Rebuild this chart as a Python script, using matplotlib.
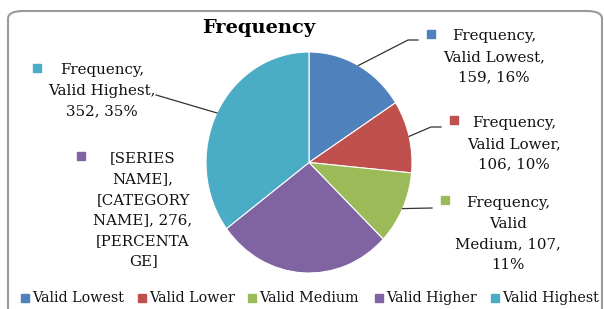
import numpy as np
import matplotlib
matplotlib.use("Agg")
import matplotlib.pyplot as plt
from matplotlib.patches import FancyBboxPatch
from matplotlib.lines import Line2D

categories = ["Valid Lowest", "Valid Lower", "Valid Medium", "Valid Higher", "Valid Highest"]
values = [159, 106, 107, 276, 352]
percents = ["16%", "10%", "11%", "28%", "35%"]
series_name = "Frequency"
colors = ["#4F81BD", "#C0504D", "#9BBB59", "#8064A2", "#4BACC6"]

label_texts = [
    "Frequency,\nValid Lowest,\n159, 16%",
    "Frequency,\nValid Lower,\n106, 10%",
    "Frequency,\nValid\nMedium, 107,\n11%",
    "[SERIES\nNAME],\n[CATEGORY\nNAME], 276,\n[PERCENTA\nGE]",
    "Frequency,\nValid Highest,\n352, 35%",
]

W, H = 604, 309
fig = plt.figure(figsize=(W / 100, H / 100), dpi=100)
FONT = "DejaVu Serif"
FS = 10.8

def fx(x):
    return x / W

def fy(y):
    return 1 - y / H

# border
border = FancyBboxPatch((fx(8), fy(318)), fx(594), 307 / H,
                        boxstyle="round,pad=0,rounding_size=0.025",
                        transform=fig.transFigure, facecolor="none",
                        edgecolor="#9a9a9a", linewidth=1.5, zorder=0)
fig.patches.append(border)

# pie axes (elliptical pie)
left, right, top, bottom = 206, 412, 52, 273
ax = fig.add_axes([fx(left), fy(bottom), (right - left) / W, (bottom - top) / H])
wedges, _ = ax.pie(values, colors=colors, startangle=90, counterclock=False,
                   wedgeprops=dict(edgecolor="white", linewidth=0.8))
ax.set_aspect("auto")
ax.set_xlim(-1, 1)
ax.set_ylim(-1, 1)
ax.axis("off")

fig.text(fx(259), fy(28), series_name, ha="center", va="center",
         fontsize=14, fontweight="bold", family=FONT)

# label layout: (marker x, marker y, text center x, text block center y, elbow, end)
layout = [
    (431, 34, 494, 57, (408, 40), (418, 40)),
    (454, 120, 514, 144, (431, 127), (441, 127)),
    (445, 200, 508, 234, (432, 208), (432, 208)),
    (81, 156, 143, 210, None, None),
    (37, 68, 102, 91, (156, 95), (156, 95)),
]

fig.canvas.draw()
for w, col, txt, lay in zip(wedges, colors, label_texts, layout):
    mx, my, tx, ty, elbow, end = lay
    fig.add_artist(Line2D([fx(mx)], [fy(my)], marker="s", markersize=5.5,
                          color=col, linestyle="none", transform=fig.transFigure))
    fig.text(fx(tx), fy(ty), txt, ha="center", va="center", fontsize=FS,
             family=FONT, linespacing=1.6, color="#111111")
    if elbow is not None:
        mid = np.deg2rad((w.theta1 + w.theta2) / 2)
        px, py = np.cos(mid), np.sin(mid)
        disp = ax.transData.transform((px, py))
        fpt = fig.transFigure.inverted().transform(disp)
        xs = [fpt[0], fx(elbow[0]), fx(end[0])]
        ys = [fpt[1], fy(elbow[1]), fy(end[1])]
        fig.add_artist(Line2D(xs, ys, color="#333333", linewidth=0.9,
                              transform=fig.transFigure))

# legend
leg_x = [25, 142, 252, 379, 495]
for x, col, cat in zip(leg_x, colors, categories):
    fig.add_artist(Line2D([fx(x)], [fy(298)], marker="s", markersize=5.5,
                          color=col, linestyle="none", transform=fig.transFigure))
    fig.text(fx(x + 7), fy(298), cat, ha="left", va="center", fontsize=10.3,
             family=FONT, color="#111111")

fig.savefig("out.png", dpi=100)
